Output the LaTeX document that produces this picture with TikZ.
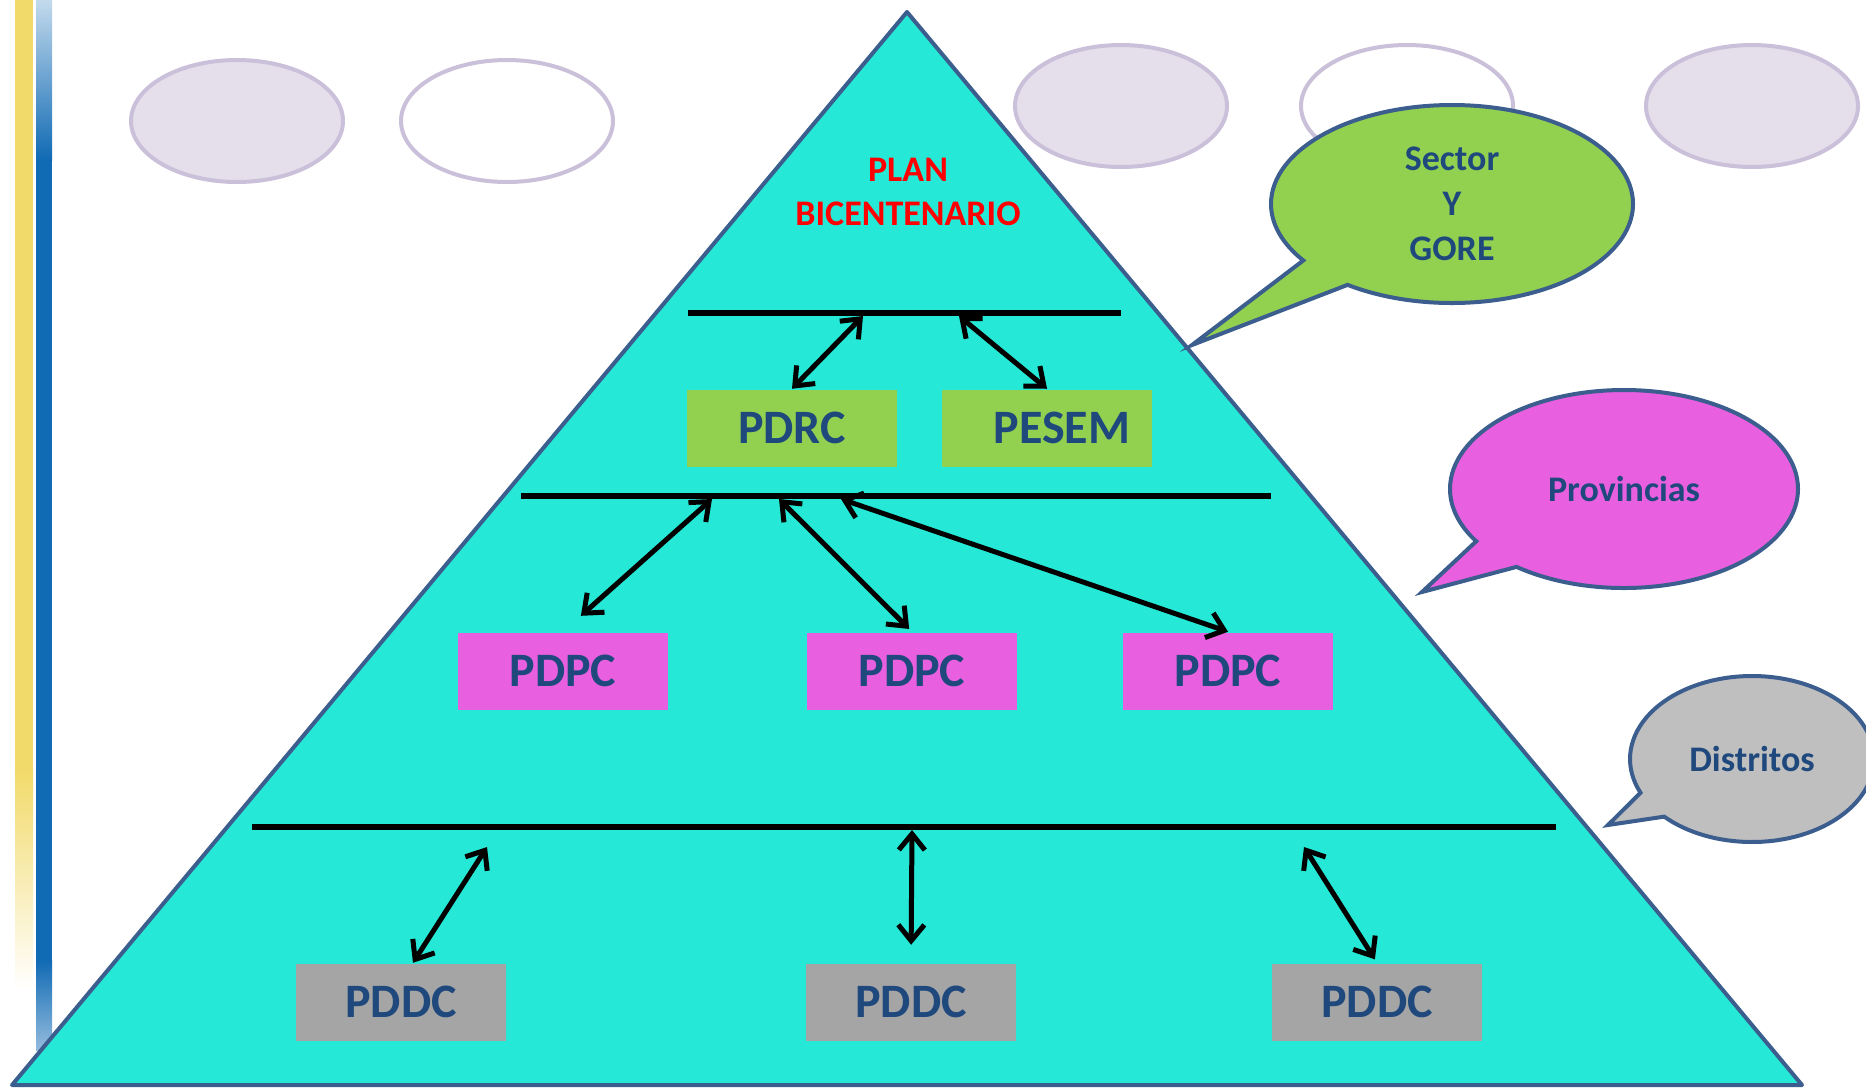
\documentclass[tikz,border=0pt]{standalone}
\usepackage{fontspec}
\setmainfont{Carlito}
\usetikzlibrary{arrows.meta,shapes.geometric,shapes.callouts}

\definecolor{pyrfill}{RGB}{38,232,214}
\definecolor{edgeblue}{RGB}{59,94,142}
\definecolor{txtblue}{RGB}{31,73,125}
\definecolor{lvlgreen}{RGB}{146,208,80}
\definecolor{lvlpink}{RGB}{232,95,224}
\definecolor{lvlgrey}{RGB}{165,165,165}
\definecolor{calgrey}{RGB}{191,191,191}
\definecolor{lilacline}{RGB}{203,192,218}
\definecolor{lilacfill}{RGB}{229,223,236}
\definecolor{baryellow}{RGB}{242,218,106}
\definecolor{barblue}{RGB}{16,106,180}

\tikzset{every picture/.style={line width=0.75pt}}

\begin{document}
\begin{tikzpicture}[x=0.5pt,y=0.5pt,yscale=-1,xscale=1,
	level/.style={rectangle,inner sep=0pt,minimum width=105pt,minimum height=38.5pt,font=\fontsize{24}{28}\selectfont\bfseries,text=txtblue},
	bubble/.style={ellipse callout,draw=edgeblue,line width=2pt,inner sep=0pt,align=center,text=txtblue,font=\fontsize{18}{22.5}\selectfont\bfseries,callout pointer arc=20},
	deco/.style={ellipse,draw=lilacline,line width=2pt,inner sep=0pt,minimum width=106pt,minimum height=61pt},
	tier/.style={line width=2.8pt},
	link/.style={line width=2.5pt,{Straight Barb[length=8pt,width=13pt]}-{Straight Barb[length=8pt,width=13pt]}}]
	\useasboundingbox (0,0) rectangle (1866,1088);

	%Side bars
	\fill[baryellow] (15,0) rectangle (33,770);
	\shade[top color=baryellow,bottom color=white] (15,770) rectangle (33,990);
	\shade[top color=barblue!25,bottom color=barblue] (36,0) rectangle (52,160);
	\fill[barblue] (36,160) rectangle (52,960);
	\shade[top color=barblue,bottom color=barblue!45] (36,960) rectangle (52,1050);

	%Pyramid
	\draw[draw=edgeblue,fill=pyrfill,line width=2pt,line join=round] (907,12) -- (1802,1085) -- (12,1085) -- cycle;

	%Ellipses
	\node[deco,fill=lilacfill] (e1) at (237,121) {};
	\node[deco,fill=white] (e2) at (507,121) {};
	\node[deco,fill=lilacfill] (e3) at (1121,106) {};
	\node[deco,fill=white] (e4) at (1407,106) {};
	\node[deco,fill=lilacfill] (e5) at (1752,106) {};

	%Callouts
	\node[bubble,fill=lvlgreen,minimum width=181pt,minimum height=99pt,callout absolute pointer={(1192,345)}] (sector) at (1452,204) {Sector\\Y\\GORE};
	\node[bubble,fill=lvlpink,minimum width=174pt,minimum height=99pt,callout absolute pointer={(1422,592)}] (prov) at (1624,489) {Provincias};
	\node[bubble,fill=calgrey,minimum width=122pt,minimum height=83pt,callout absolute pointer={(1608,825)}] (dist) at (1752,759) {Distritos};

	%Straight Lines
	\coordinate (r1w) at (688,313);
	\coordinate (r1e) at (1121,313);
	\coordinate (r2w) at (521,496);
	\coordinate (r2e) at (1271,496);
	\coordinate (r3w) at (252,827);
	\coordinate (r3e) at (1556,827);
	\draw[tier] (r1w) -- (r1e);
	\draw[tier] (r2w) -- (r2e);
	\draw[tier] (r3w) -- (r3e);

	% Text Node
	\node[text=red,align=center,font=\fontsize{18}{22}\selectfont\bfseries] (plan) at (908,192) {PLAN\\BICENTENARIO};

	%Boxes
	\node[level,fill=lvlgreen] (pdrc) at (792,428) {PDRC};
	\node[level,fill=lvlgreen] (pesem) at (1047,428) {\hspace*{15pt}PESEM};
	\node[level,fill=lvlpink] (pdpc1) at (563,671) {PDPC};
	\node[level,fill=lvlpink] (pdpc2) at (912,671) {PDPC};
	\node[level,fill=lvlpink] (pdpc3) at (1228,671) {PDPC};
	\node[level,fill=lvlgrey] (pddc1) at (401,1002) {PDDC};
	\node[level,fill=lvlgrey] (pddc2) at (911,1002) {PDDC};
	\node[level,fill=lvlgrey] (pddc3) at (1377,1002) {PDDC};

	%Arrows
	\coordinate (j1) at (863,316);
	\coordinate (j2) at (959,316);
	\coordinate (j3) at (712,499);
	\coordinate (j4) at (779,499);
	\coordinate (j5) at (841,499);
	\coordinate (j6) at (487,847);
	\coordinate (j7) at (912,830);
	\coordinate (j8) at (1304,847);
	\draw[link] (j1) -- (pdrc.north);
	\draw[link] (j2) -- (pesem.north);
	\draw[link,shorten >=12pt] (j3) -- (pdpc1.north);
	\draw[link,shorten >=2pt] (j4) -- (pdpc2.north);
	\draw[link] (j5) -- (pdpc3.north);
	\draw[link] (j6) -- ([xshift=6pt]pddc1.north);
	\draw[link,shorten >=9pt] (j7) -- (pddc2.north);
	\draw[link,shorten >=2pt] (j8) -- (pddc3.north);

\end{tikzpicture}
\end{document}
